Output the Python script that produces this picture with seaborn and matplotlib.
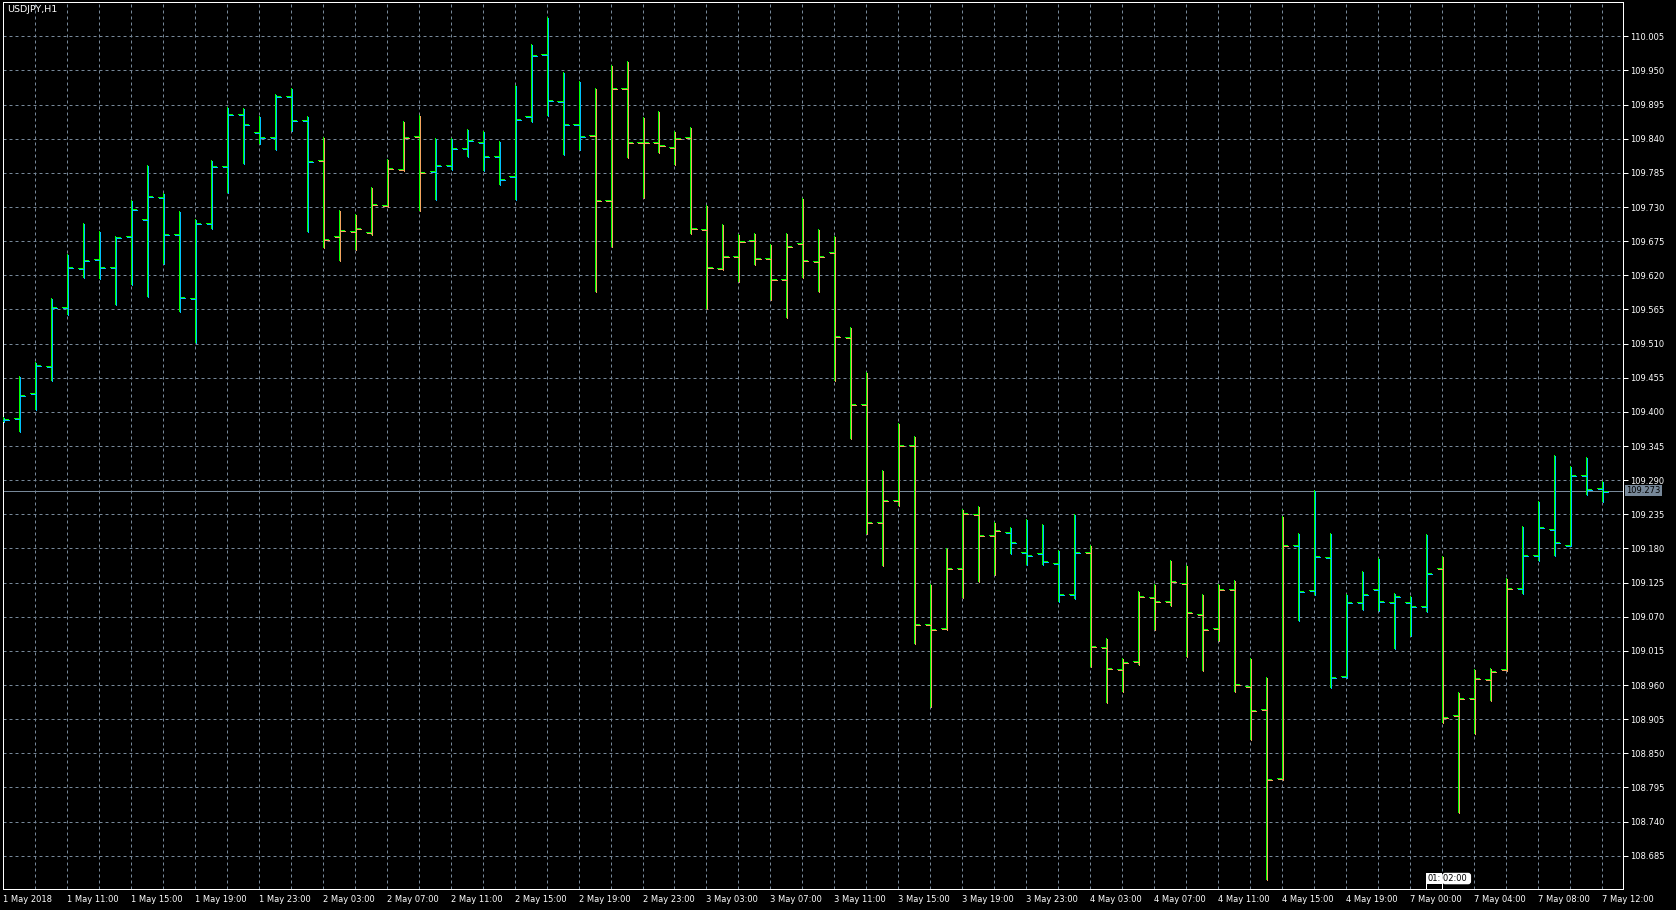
import numpy as np
import pandas as pd
import matplotlib
matplotlib.use("Agg")
import matplotlib.pyplot as plt
import matplotlib.transforms as mtransforms
from matplotlib.ticker import MultipleLocator
import seaborn as sns

# -------------------- 数据：USDJPY H1 --------------------
opens = [109.389, 109.390, 109.430, 109.474, 109.569, 109.632, 109.646, 109.633, 109.683, 109.711,
         109.746, 109.687, 109.583, 109.704, 109.796, 109.880, 109.851, 109.843, 109.909, 109.871,
         109.806, 109.683, 109.691, 109.690, 109.733, 109.792, 109.845, 109.788, 109.798, 109.825,
         109.835, 109.812, 109.780, 109.877, 109.977, 109.901, 109.863, 109.846, 109.741, 109.922,
         109.835, 109.835, 109.827, 109.843, 109.695, 109.632, 109.651, 109.677, 109.648, 109.614,
         109.672, 109.643, 109.657, 109.520, 109.412, 109.222, 109.258, 109.347, 109.058, 109.052,
         109.148, 109.236, 109.202, 109.207, 109.174, 109.173, 109.157, 109.107, 109.174, 109.021,
         108.986, 108.999, 109.102, 109.095, 109.124, 109.074, 109.052, 109.115, 108.958, 108.921,
         108.810, 109.185, 109.113, 109.166, 108.974, 109.094, 109.114, 109.093, 109.093, 109.087,
         109.148, 108.911, 108.939, 108.969, 108.985, 109.116, 109.169, 109.211, 109.186, 109.298,
         109.278]
highs = [109.392, 109.457, 109.481, 109.584, 109.655, 109.705, 109.691, 109.684, 109.741, 109.797,
         109.752, 109.723, 109.710, 109.805, 109.891, 109.889, 109.876, 109.912, 109.922, 109.876,
         109.843, 109.725, 109.718, 109.762, 109.807, 109.868, 109.878, 109.841, 109.841, 109.856,
         109.852, 109.836, 109.927, 109.993, 110.036, 109.947, 109.933, 109.921, 109.958, 109.965,
         109.875, 109.885, 109.852, 109.859, 109.734, 109.702, 109.686, 109.688, 109.670, 109.688,
         109.744, 109.694, 109.684, 109.536, 109.465, 109.307, 109.382, 109.361, 109.123, 109.181,
         109.244, 109.249, 109.223, 109.215, 109.228, 109.220, 109.177, 109.236, 109.186, 109.035,
         109.004, 109.112, 109.122, 109.161, 109.154, 109.106, 109.123, 109.129, 109.003, 108.973,
         109.232, 109.205, 109.274, 109.205, 109.106, 109.143, 109.165, 109.109, 109.103, 109.203,
         109.168, 108.949, 108.986, 108.988, 109.133, 109.216, 109.257, 109.331, 109.313, 109.327,
         109.288]
lows = [109.386, 109.370, 109.404, 109.451, 109.558, 109.617, 109.616, 109.574, 109.606, 109.587,
        109.640, 109.562, 109.512, 109.696, 109.754, 109.801, 109.833, 109.824, 109.854, 109.691,
        109.666, 109.645, 109.662, 109.687, 109.732, 109.790, 109.725, 109.743, 109.792, 109.812,
        109.790, 109.767, 109.743, 109.869, 109.879, 109.816, 109.824, 109.595, 109.667, 109.811,
        109.746, 109.819, 109.800, 109.688, 109.567, 109.630, 109.611, 109.638, 109.582, 109.553,
        109.617, 109.595, 109.452, 109.358, 109.205, 109.153, 109.250, 109.028, 108.927, 109.051,
        109.102, 109.128, 109.139, 109.173, 109.155, 109.155, 109.095, 109.100, 108.990, 108.932,
        108.950, 108.994, 109.050, 109.089, 109.007, 108.984, 109.033, 108.950, 108.873, 108.648,
        108.808, 109.065, 109.107, 108.957, 108.973, 109.082, 109.081, 109.019, 109.040, 109.079,
        108.900, 108.755, 108.882, 108.936, 108.984, 109.109, 109.161, 109.170, 109.185, 109.267,
        109.257]
closes = [109.388, 109.427, 109.475, 109.569, 109.633, 109.645, 109.633, 109.682, 109.727, 109.748,
          109.687, 109.585, 109.704, 109.796, 109.880, 109.863, 109.843, 109.909, 109.871, 109.804,
          109.679, 109.693, 109.696, 109.735, 109.793, 109.843, 109.787, 109.798, 109.825, 109.838,
          109.812, 109.775, 109.872, 109.975, 109.903, 109.863, 109.845, 109.741, 109.922, 109.835,
          109.835, 109.830, 109.842, 109.696, 109.633, 109.651, 109.675, 109.648, 109.614, 109.667,
          109.645, 109.651, 109.522, 109.412, 109.222, 109.258, 109.347, 109.058, 109.050, 109.148,
          109.237, 109.202, 109.210, 109.191, 109.170, 109.160, 109.107, 109.174, 109.023, 108.987,
          108.997, 109.103, 109.095, 109.128, 109.078, 109.050, 109.115, 108.961, 108.919, 108.808,
          109.185, 109.111, 109.168, 108.973, 109.094, 109.107, 109.095, 109.103, 109.087, 109.141,
          108.909, 108.939, 108.971, 108.982, 109.117, 109.169, 109.214, 109.190, 109.298, 109.276,
          109.273]
# 每根K线的趋势颜色：b = 蓝, o = 橙
trend = ("bbbbbbbbbb" "bbbbbbbbbb" "ooooooobbb" "bbbbbbbooo" "oooooooooo"
         "oooooooooo" "ooobbbbboo" "oooooooooo" "obbbbbbbbb" "ooooobbbbb" "b")
time_labels = ["1 May 2018", "1 May 11:00", "1 May 15:00", "1 May 19:00", "1 May 23:00",
               "2 May 03:00", "2 May 07:00", "2 May 11:00", "2 May 15:00", "2 May 19:00",
               "2 May 23:00", "3 May 03:00", "3 May 07:00", "3 May 11:00", "3 May 15:00",
               "3 May 19:00", "3 May 23:00", "4 May 03:00", "4 May 07:00", "4 May 11:00",
               "4 May 15:00", "4 May 19:00", "7 May 00:00", "7 May 04:00", "7 May 08:00",
               "7 May 12:00"]
price_ticks = np.round(108.685 + 0.055 * np.arange(25), 3)

df = pd.DataFrame({"open": opens, "high": highs, "low": lows, "close": closes,
                   "trend": list(trend)})
df["x"] = np.arange(len(df))
df["color"] = df["trend"].map({"b": "#00bfff", "o": "#f4a460"})

# -------------------- 样式 --------------------
sns.set_theme(style="dark", rc={"axes.facecolor": "black", "figure.facecolor": "black",
                                "savefig.facecolor": "black"})
plt.rcParams["font.family"] = ["DejaVu Sans"]

GREEN = "#00ff00"
GRID = "#778899"
LW = 0.72  # 1 px

fig = plt.figure(figsize=(16.76, 9.10), dpi=100)
ax = fig.add_axes([0.00161, 0.02308, 0.96695, 0.97439])

# -------------------- 画K线（美国线） --------------------
half = 0.32
shift = mtransforms.offset_copy(ax.transData, fig=fig, x=1, y=-1, units="dots")
for tr, col in [(ax.transData, GREEN), (shift, df["color"].tolist())]:
    ax.vlines(df["x"], df["low"], df["high"], colors=col, lw=LW, transform=tr,
              antialiased=False, zorder=3)
    ax.hlines(df["open"], df["x"] - half, df["x"], colors=col, lw=LW, transform=tr,
              antialiased=False, zorder=3)
    ax.hlines(df["close"], df["x"], df["x"] + half, colors=col, lw=LW, transform=tr,
              antialiased=False, zorder=3)

# 当前价格线
last = df["close"].iloc[-1]
ax.axhline(last, color=GRID, lw=LW, zorder=2)
ax.text(1.0018, last, f"{last:.3f}", transform=ax.get_yaxis_transform(), ha="left",
        va="center", fontsize=6, color="black", clip_on=False,
        bbox=dict(boxstyle="square,pad=0.12", fc=GRID, ec="none"))

# -------------------- 坐标轴 --------------------
ax.set_xlim(-0.02, 101.35)
ax.set_ylim(108.6314, 110.0598)
ax.set_xticks(df["x"][::4])
ax.set_xticklabels(time_labels, ha="left")
ax.xaxis.set_minor_locator(MultipleLocator(2))
ax.set_yticks(price_ticks)
ax.set_yticklabels([f"{v:.3f}" for v in price_ticks])
ax.yaxis.tick_right()

ax.tick_params(axis="both", which="major", colors="white", labelcolor="white",
               labelsize=6, width=LW, direction="out")
ax.tick_params(axis="x", which="major", length=3, pad=1)
ax.tick_params(axis="y", which="major", length=3.6, pad=1)
ax.tick_params(axis="both", which="minor", length=0)

ax.grid(True, axis="x", which="both", color=GRID, lw=LW, linestyle=(0, (3, 3)), zorder=1)
ax.grid(True, axis="y", which="major", color=GRID, lw=LW, linestyle=(0, (3, 3)), zorder=1)
ax.set_axisbelow(True)
for s in ax.spines.values():
    s.set_color("white")
    s.set_linewidth(LW)

# 时间标记框
xt = ax.get_xaxis_transform()
ax.vlines([89, 90], 0, 0.012, colors="white", lw=LW, transform=xt, zorder=4)
ax.text(89.08, 0.0118, "01:", transform=xt, ha="left", va="center", fontsize=6, color="black",
        zorder=5, bbox=dict(boxstyle="square,pad=0.15", fc="white", ec="none"))
ax.text(90.1, 0.0118, "02:00 ", transform=xt, ha="left", va="center", fontsize=6, color="black",
        zorder=5, bbox=dict(boxstyle="round,pad=0.15,rounding_size=0.35", fc="white", ec="none"))

fig.text(6.7 / 1676, 1 - 10 / 910, "USDJPY,H1", color="white", fontsize=6.8,
         ha="left", va="center")

fig.savefig("out.png", dpi=100, facecolor="black")
